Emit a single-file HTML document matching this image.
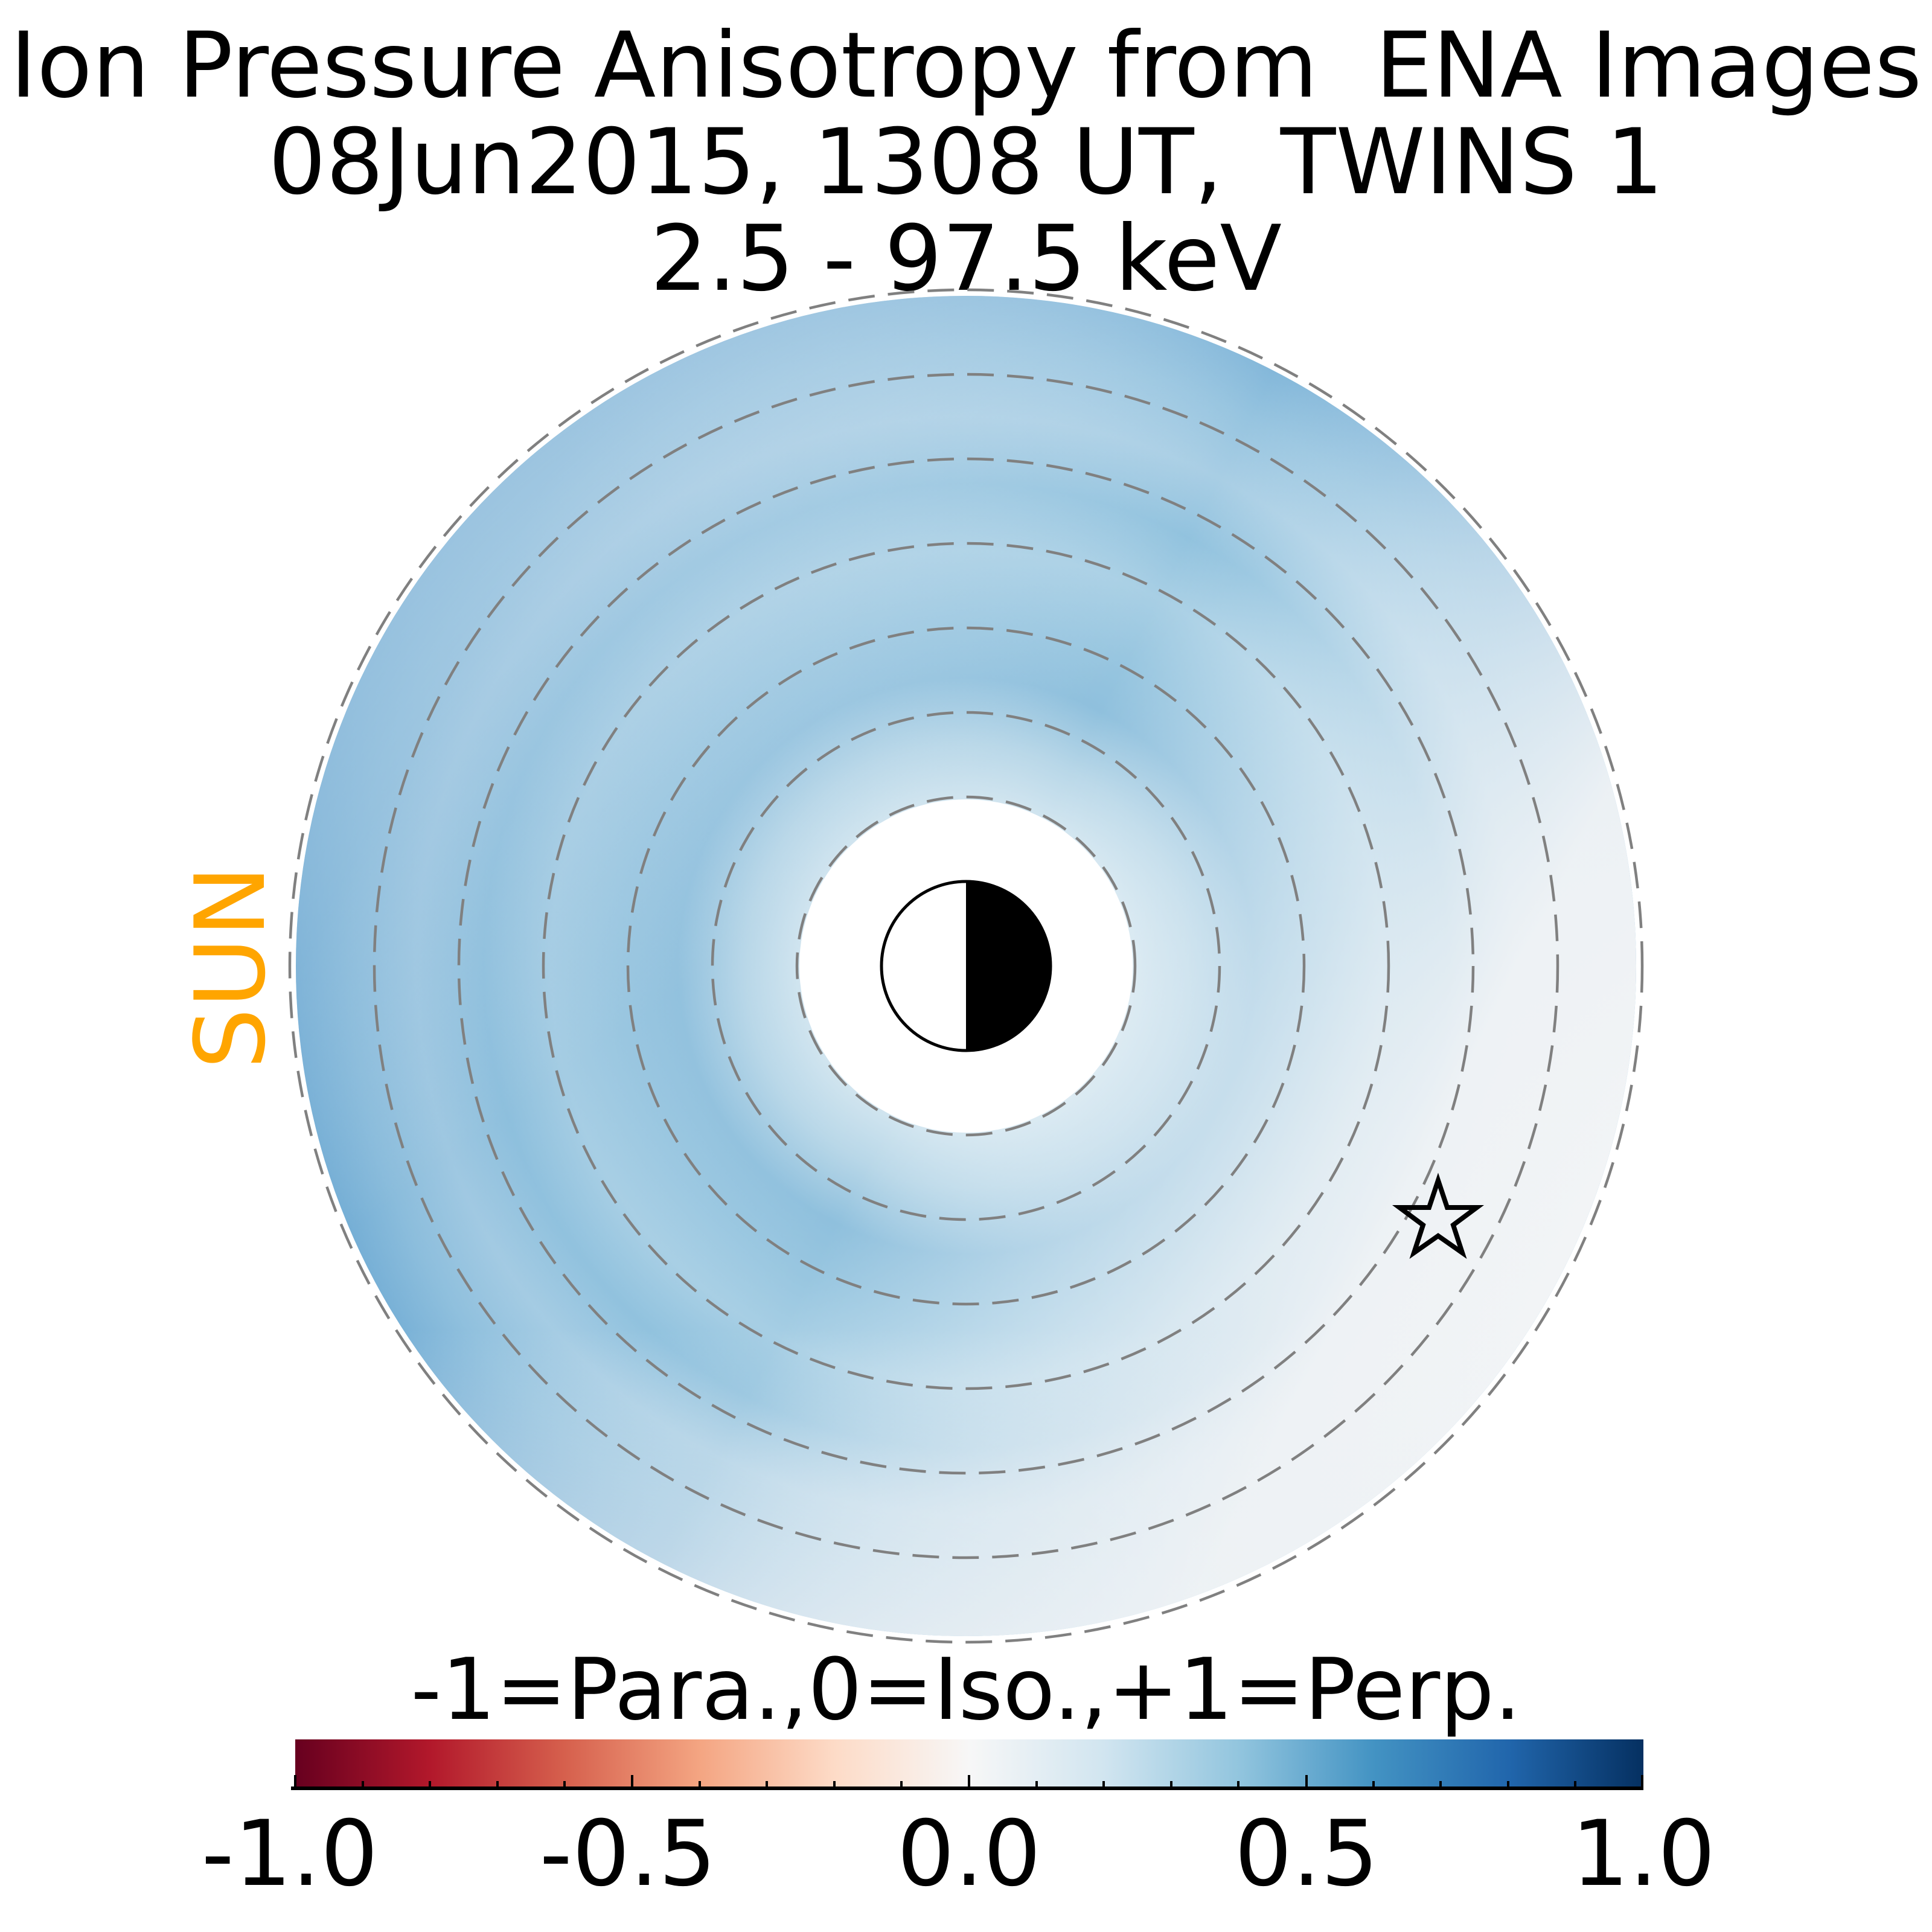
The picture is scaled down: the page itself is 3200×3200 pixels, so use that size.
<!DOCTYPE html>
<html><head><meta charset="utf-8"><style>
html,body{margin:0;padding:0;background:#fff;}
svg{display:block;}
text{white-space:pre;}
</style></head><body>
<svg width="3200" height="3200" viewBox="0 0 3200 3200" xmlns="http://www.w3.org/2000/svg" xml:space="preserve">
<defs>
<radialGradient id="rings" cx="1600" cy="1600" r="1110" gradientUnits="userSpaceOnUse">
<stop offset="0.24" stop-color="#d3e6f0"/>
<stop offset="0.33" stop-color="#b8d7e8"/>
<stop offset="0.43" stop-color="#8fc0dd"/>
<stop offset="0.52" stop-color="#98c6e0"/>
<stop offset="0.62" stop-color="#a6cee4"/>
<stop offset="0.72" stop-color="#8dc0dd"/>
<stop offset="0.82" stop-color="#a3cbe3"/>
<stop offset="0.92" stop-color="#8dbfdd"/>
<stop offset="1" stop-color="#76b0d6"/>
</radialGradient>
<linearGradient id="fade" x1="700" y1="1200" x2="2650" y2="2200" gradientUnits="userSpaceOnUse">
<stop offset="0" stop-color="#3a86c0" stop-opacity="0.25"/>
<stop offset="0.45" stop-color="#ffffff" stop-opacity="0"/>
<stop offset="0.68" stop-color="#f0f4f7" stop-opacity="0.6"/>
<stop offset="0.82" stop-color="#f2f4f6" stop-opacity="0.95"/>
<stop offset="1" stop-color="#f4f5f6" stop-opacity="1"/>
</linearGradient>
<linearGradient id="topfade" x1="1000" y1="480" x2="1600" y2="1300" gradientUnits="userSpaceOnUse">
<stop offset="0" stop-color="#e4eef5" stop-opacity="0.5"/>
<stop offset="1" stop-color="#e4eef5" stop-opacity="0"/>
</linearGradient>
<linearGradient id="bottomfade" x1="0" y1="2200" x2="0" y2="2720" gradientUnits="userSpaceOnUse">
<stop offset="0" stop-color="#eef2f5" stop-opacity="0"/>
<stop offset="1" stop-color="#eef2f5" stop-opacity="0.8"/>
</linearGradient>
<linearGradient id="cmap" x1="0" y1="0" x2="1" y2="0">
<stop offset="0" stop-color="#67001f"/>
<stop offset="0.1" stop-color="#b2182b"/>
<stop offset="0.2" stop-color="#d6604d"/>
<stop offset="0.3" stop-color="#f4a582"/>
<stop offset="0.4" stop-color="#fddbc7"/>
<stop offset="0.5" stop-color="#f7f7f7"/>
<stop offset="0.6" stop-color="#d1e5f0"/>
<stop offset="0.7" stop-color="#92c5de"/>
<stop offset="0.8" stop-color="#4393c3"/>
<stop offset="0.9" stop-color="#2166ac"/>
<stop offset="1" stop-color="#053061"/>
</linearGradient>
</defs>
<g font-family="'DejaVu Sans','Liberation Sans',sans-serif" fill="#000" text-anchor="middle">
<text x="1600" y="160" font-size="150">Ion Pressure Anisotropy from  ENA Images</text>
<text x="1600" y="320" font-size="150">08Jun2015, 1308 UT,  TWINS 1</text>
<text x="1600" y="480" font-size="150">2.5 - 97.5 keV</text>
</g>
<circle cx="1600" cy="1600" r="1110" fill="url(#rings)"/>
<circle cx="1600" cy="1600" r="1110" fill="url(#fade)"/>
<circle cx="1600" cy="1600" r="1110" fill="url(#topfade)"/>
<circle cx="1600" cy="1600" r="1110" fill="url(#bottomfade)"/>
<circle cx="1600" cy="1600" r="276" fill="#fff"/>
<g fill="none" stroke="#808080" stroke-width="4.5" stroke-dasharray="44 22">
<circle cx="1600" cy="1600" r="280"/>
<circle cx="1600" cy="1600" r="420"/>
<circle cx="1600" cy="1600" r="560"/>
<circle cx="1600" cy="1600" r="700"/>
<circle cx="1600" cy="1600" r="840"/>
<circle cx="1600" cy="1600" r="980"/>
<circle cx="1600" cy="1600" r="1120"/>
</g>
<circle cx="1600" cy="1600" r="140" fill="#fff" stroke="#000" stroke-width="5"/>
<path d="M1600 1460 A140 140 0 0 1 1600 1740 Z" fill="#000"/>
<polygon fill="none" stroke="#000" stroke-width="8" stroke-linejoin="miter"
points="2382,1955 2397,2000 2446,2000 2407,2029 2422,2075 2382,2047 2342,2075 2357,2029 2318,2000 2367,2000"/>
<text x="0" y="0" font-family="'DejaVu Sans','Liberation Sans',sans-serif" font-size="160" fill="#ffa500" text-anchor="middle" transform="translate(437,1602) rotate(-90)">SUN</text>
<text x="1600" y="2847" font-family="'DejaVu Sans','Liberation Sans',sans-serif" font-size="141" text-anchor="middle">-1=Para.,0=Iso.,+1=Perp.</text>
<rect x="489" y="2881" width="2233" height="78" fill="url(#cmap)"/>
<line x1="482" y1="2962" x2="2722" y2="2962" stroke="#000" stroke-width="6"/>
<g stroke="#000" stroke-width="4">
<line x1="489" y1="2940" x2="489" y2="2962"/>
<line x1="1047" y1="2940" x2="1047" y2="2962"/>
<line x1="1605" y1="2940" x2="1605" y2="2962"/>
<line x1="2164" y1="2940" x2="2164" y2="2962"/>
<line x1="2720" y1="2940" x2="2720" y2="2962"/>
<line x1="601" y1="2950" x2="601" y2="2962"/>
<line x1="712" y1="2950" x2="712" y2="2962"/>
<line x1="824" y1="2950" x2="824" y2="2962"/>
<line x1="935" y1="2950" x2="935" y2="2962"/>
<line x1="1159" y1="2950" x2="1159" y2="2962"/>
<line x1="1270" y1="2950" x2="1270" y2="2962"/>
<line x1="1382" y1="2950" x2="1382" y2="2962"/>
<line x1="1493" y1="2950" x2="1493" y2="2962"/>
<line x1="1717" y1="2950" x2="1717" y2="2962"/>
<line x1="1828" y1="2950" x2="1828" y2="2962"/>
<line x1="1940" y1="2950" x2="1940" y2="2962"/>
<line x1="2051" y1="2950" x2="2051" y2="2962"/>
<line x1="2275" y1="2950" x2="2275" y2="2962"/>
<line x1="2386" y1="2950" x2="2386" y2="2962"/>
<line x1="2498" y1="2950" x2="2498" y2="2962"/>
<line x1="2609" y1="2950" x2="2609" y2="2962"/>
</g>
<g font-family="'DejaVu Sans','Liberation Sans',sans-serif" font-size="150" text-anchor="middle">
<text x="480" y="3122">-1.0</text>
<text x="1040" y="3122">-0.5</text>
<text x="1605" y="3122">0.0</text>
<text x="2164" y="3122">0.5</text>
<text x="2722" y="3122">1.0</text>
</g>
</svg>
</body></html>
